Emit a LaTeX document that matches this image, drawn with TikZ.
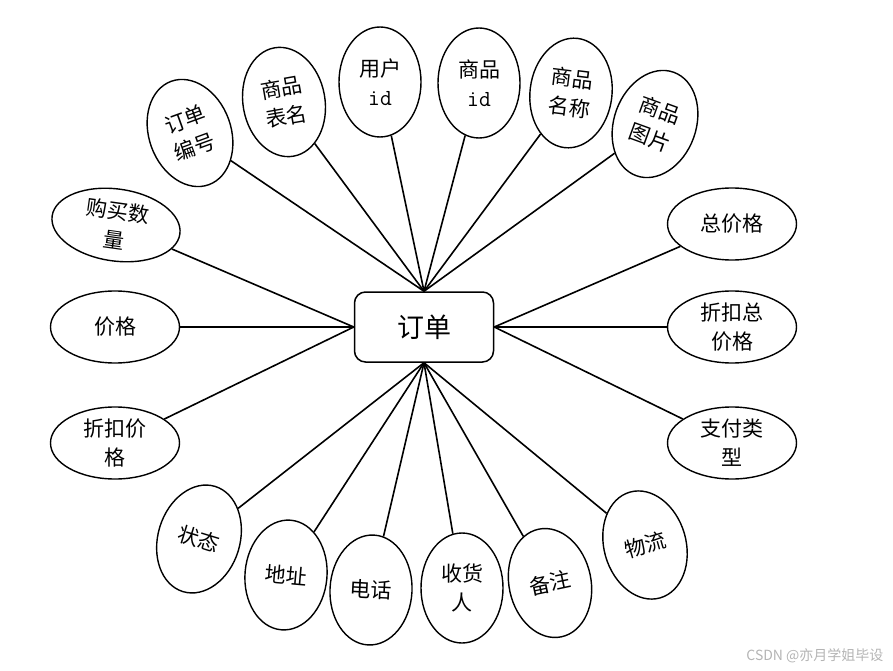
\documentclass[tikz,border=0pt]{standalone}
\usepackage{fontspec}
\usepackage{xcolor}
\usepackage{tikz}
\usetikzlibrary{shapes.geometric}
\newfontfamily\cjk{Noto Sans CJK SC}
\definecolor{wmgray}{HTML}{B4B4B4}

\begin{document}
\begin{tikzpicture}[
    x=1pt, y=-1pt,
    entity/.style={draw, line width=1.5pt, rounded corners=11pt, minimum width=139pt, minimum height=70pt, font=\cjk\fontsize{27}{30}\selectfont},
    attr/.style={draw, ellipse, line width=1.4pt, inner sep=0pt, minimum width=82pt, minimum height=110pt, align=center, font=\cjk\fontsize{21}{29}\selectfont},
    wideattr/.style={attr, minimum width=129pt, minimum height=72pt},
    link/.style={line width=1.6pt}
]
\useasboundingbox (0,0) rectangle (893,671);

% Central entity.
\node[entity] (ordr) at (424,327) {订单};

% Attributes above the entity.
\node[attr, rotate=20] (orderno) at (190,133) {订单\\编号};
\node[attr, rotate=10] (tablename) at (284,102) {商品\\表名};
\node[attr] (userid) at (380,82) {用户\\\ttfamily\fontsize{23}{29}\selectfont id};
\node[attr] (goodsid) at (479,83) {商品\\\ttfamily\fontsize{23}{29}\selectfont id};
\node[attr, rotate=-7] (goodsname) at (571,93) {商品\\名称};
\node[attr, rotate=-20] (goodspic) at (655,124) {商品\\图片};

% Attributes on the left.
\node[wideattr, rotate=-8] (buynum) at (116,225) {购买数\\量};
\node[wideattr] (price) at (115,327) {价格};
\node[wideattr] (discprice) at (115,443) {折扣价\\格};

% Attributes on the right.
\node[wideattr] (totalprice) at (732,224) {总价格};
\node[wideattr] (disctotal) at (732,327) {折扣总\\价格};
\node[wideattr] (paytype) at (732,443) {支付类\\型};

% Attributes below the entity.
\node[attr, rotate=-17] (status) at (199,539) {状态};
\node[attr, rotate=-5] (address) at (286,575) {地址};
\node[attr, rotate=-3] (phone) at (371,590) {电话};
\node[attr] (receiver) at (462,588) {收货\\人};
\node[attr, rotate=12] (remark) at (550,583) {备注};
\node[attr, rotate=16] (logistics) at (645,545) {物流};

% Connectors into the top of the entity.
\draw[link] (ordr.north) -- (orderno);
\draw[link] (ordr.north) -- (tablename);
\draw[link] (ordr.north) -- (userid);
\draw[link] (ordr.north) -- (goodsid);
\draw[link] (ordr.north) -- (goodsname);
\draw[link] (ordr.north) -- (goodspic);

% Connectors on the sides.
\draw[link] (ordr.west) -- (buynum);
\draw[link] (ordr.west) -- (price);
\draw[link] (ordr.west) -- (discprice);
\draw[link] (ordr.east) -- (totalprice);
\draw[link] (ordr.east) -- (disctotal);
\draw[link] (ordr.east) -- (paytype);

% Connectors from the bottom of the entity.
\draw[link] (ordr.south) -- (status);
\draw[link] (ordr.south) -- (address);
\draw[link] (ordr.south) -- (phone);
\draw[link] (ordr.south) -- (receiver);
\draw[link] (ordr.south) -- (remark);
\draw[link] (ordr.south) -- (logistics);

% Watermark.
\node[anchor=east, text=wmgray, font=\cjk\fontsize{14}{16}\selectfont] (mark) at (887,656) {CSDN @亦月学姐毕设};
\end{tikzpicture}
\end{document}
